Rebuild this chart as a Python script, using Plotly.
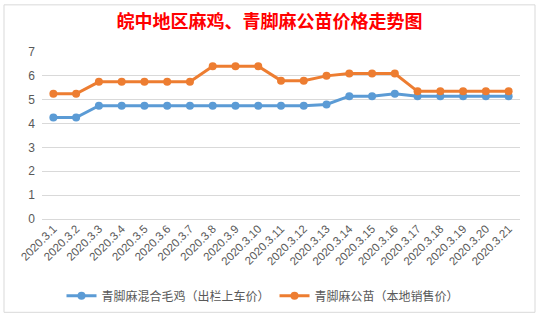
import plotly.graph_objects as go

dates = ["2020.3.1", "2020.3.2", "2020.3.3", "2020.3.4", "2020.3.5", "2020.3.6", "2020.3.7",
         "2020.3.8", "2020.3.9", "2020.3.10", "2020.3.11", "2020.3.12", "2020.3.13", "2020.3.14",
         "2020.3.15", "2020.3.16", "2020.3.17", "2020.3.18", "2020.3.19", "2020.3.20", "2020.3.21"]
mixed = [4.25, 4.25, 4.75, 4.75, 4.75, 4.75, 4.75, 4.75, 4.75, 4.75, 4.75, 4.75, 4.8,
         5.15, 5.15, 5.25, 5.15, 5.15, 5.15, 5.15, 5.15]
male = [5.25, 5.25, 5.75, 5.75, 5.75, 5.75, 5.75, 6.4, 6.4, 6.4, 5.8, 5.8, 6.0,
        6.1, 6.1, 6.1, 5.35, 5.35, 5.35, 5.35, 5.35]
name_mixed = "青脚麻混合毛鸡（出栏上车价）"
name_male = "青脚麻公苗（本地销售价）"
title = "皖中地区麻鸡、青脚麻公苗价格走势图"

font_cjk = "Noto Sans CJK SC, Noto Sans, sans-serif"
fig = go.Figure()
fig.add_trace(go.Scatter(x=list(range(len(dates))), y=mixed, name=name_mixed, mode="lines+markers",
                         line=dict(color="#5B9BD5", width=3), marker=dict(size=8, color="#5B9BD5")))
fig.add_trace(go.Scatter(x=list(range(len(dates))), y=male, name=name_male, mode="lines+markers",
                         line=dict(color="#ED7D31", width=3), marker=dict(size=8, color="#ED7D31")))

fig.update_layout(
    width=539, height=322,
    margin=dict(l=42, r=19, t=52, b=100),
    paper_bgcolor="white", plot_bgcolor="white",
    font=dict(family=font_cjk, color="#595959", size=12),
    title=dict(text=title, x=0.5, xanchor="center", y=1 - 22 / 322, yanchor="middle",
               font=dict(family=font_cjk, size=18, color="#FF0000", weight="bold")),
    showlegend=True,
    legend=dict(orientation="h", x=(263 - 42) / 478, xanchor="center", y=-0.46, yanchor="middle",
                font=dict(size=12, color="#595959"), itemwidth=30, bgcolor="rgba(0,0,0,0)"),
    xaxis=dict(range=[-0.5, len(dates) - 0.5], tickmode="array",
               tickvals=list(range(len(dates))), ticktext=dates, tickangle=-45,
               showgrid=False, zeroline=False, showline=False, ticks="",
               tickfont=dict(size=11.5, color="#595959", family="Liberation Sans, Arial, sans-serif")),
    yaxis=dict(range=[0, 7], dtick=1, showgrid=True, gridcolor="#D9D9D9", gridwidth=1,
               zeroline=True, zerolinecolor="#D9D9D9", zerolinewidth=1, showline=False, ticks="",
               ticklabelstandoff=6,
               tickfont=dict(size=12, color="#595959", family="Liberation Sans, Arial, sans-serif")),
    shapes=[dict(type="rect", xref="paper", yref="paper",
                 x0=(4 - 42) / 478, x1=(535 - 42) / 478, y0=(222 - 317) / 170, y1=(222 - 4) / 170,
                 line=dict(color="#D9D9D9", width=1), fillcolor="rgba(0,0,0,0)", layer="below")],
)

fig.write_html("out.html")
